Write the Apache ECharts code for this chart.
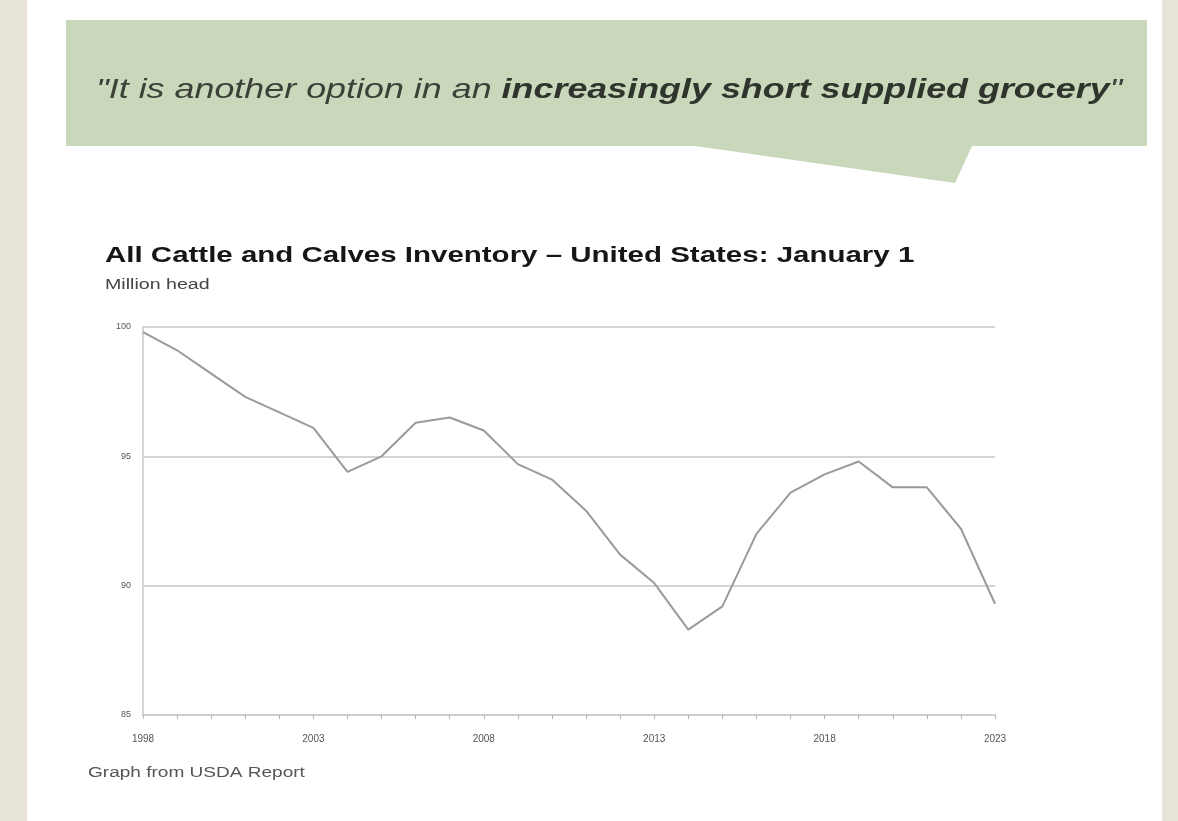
<!DOCTYPE html>
<html>
<head>
<meta charset="utf-8">
<title>All Cattle and Calves Inventory</title>
<script src="https://cdn.jsdelivr.net/npm/echarts@6/dist/echarts.min.js"></script>
<style>
  html, body { margin: 0; padding: 0; background: #e8e4d9; }
  #panel { position: absolute; left: 27px; top: 0; width: 1135px; height: 821px; background: #fff; }
  #chart { position: absolute; left: 0; top: 0; width: 1178px; height: 821px; }
</style>
</head>
<body>
<div id="panel"></div>
<div id="chart"></div>
<script>
// January 1 inventory, million head
const years = ['1998','1999','2000','2001','2002','2003','2004','2005','2006','2007','2008','2009','2010',
  '2011','2012','2013','2014','2015','2016','2017','2018','2019','2020','2021','2022','2023'];
const inventory = [99.8, 99.1, 98.2, 97.3, 96.7, 96.1, 94.4, 95.0, 96.3, 96.5, 96.0, 94.7, 94.1,
  92.9, 91.2, 90.1, 88.3, 89.2, 92.0, 93.6, 94.3, 94.8, 93.8, 93.8, 92.2, 89.3];
const yTicks = [85, 90, 95, 100];
const labelYears = ['1998', '2003', '2008', '2013', '2018', '2023'];

const chart = echarts.init(document.getElementById('chart'));

chart.setOption({
  animation: false,
  grid: {
    left: 143,
    right: 183,
    top: 327,
    bottom: 106
  },
  graphic: [
    {
      type: 'polygon',
      z: -1,
      shape: {
        points: [[66, 20], [1147, 20], [1147, 146], [972, 146], [955, 183], [695, 146], [66, 146]]
      },
      style: { fill: '#c9d7ba' }
    },
    {
      type: 'text',
      x: 96,
      y: 76,
      scaleX: 1.3,
      style: {
        text: '{a|"It is another option in an }{b|increasingly short supplied grocery}{a|"}',
        rich: {
          a: { fontFamily: 'Liberation Sans', fontStyle: 'italic', fontSize: 27.6, fill: '#3b4038' },
          b: { fontFamily: 'Liberation Sans', fontStyle: 'italic', fontWeight: 'bold', fontSize: 27.6, fill: '#2f342d' }
        }
      }
    },
    {
      type: 'text',
      x: 105,
      y: 245,
      scaleX: 1.34,
      style: {
        text: 'All Cattle and Calves Inventory \u2013 United States: January 1',
        fontFamily: 'Liberation Sans',
        fontWeight: 'bold',
        fontSize: 22,
        fill: '#161616'
      }
    },
    {
      type: 'text',
      x: 105,
      y: 278,
      scaleX: 1.4,
      style: {
        text: 'Million head',
        fontFamily: 'Liberation Sans',
        fontSize: 14,
        fill: '#444'
      }
    },
    {
      type: 'text',
      x: 88,
      y: 766,
      scaleX: 1.36,
      style: {
        text: 'Graph from USDA Report',
        fontFamily: 'Liberation Sans',
        fontSize: 14,
        fill: '#555'
      }
    }
  ],
  xAxis: {
    type: 'category',
    data: years,
    boundaryGap: false,
    axisLine: { lineStyle: { color: '#cfcfcf', width: 2 } },
    axisTick: { interval: 0, length: 4, lineStyle: { color: '#b5b5b5' } },
    axisLabel: {
      interval: function (idx, val) { return labelYears.indexOf(val) >= 0; },
      color: '#555',
      fontSize: 10,
      fontFamily: 'Liberation Sans',
      margin: 19
    },
    splitLine: { show: false }
  },
  yAxis: {
    type: 'value',
    min: yTicks[0],
    max: yTicks[yTicks.length - 1],
    interval: 5,
    axisLine: { show: true, lineStyle: { color: '#d4d4d4', width: 2 } },
    axisTick: { show: false },
    axisLabel: {
      color: '#555',
      fontSize: 9,
      fontFamily: 'Liberation Sans',
      margin: 12
    },
    splitLine: {
      lineStyle: { color: '#c6c6c6', width: 1.5 }
    }
  },
  series: [
    {
      name: 'All cattle and calves',
      type: 'line',
      data: inventory,
      symbol: 'none',
      lineStyle: { color: '#9a9a9a', width: 2 }
    }
  ]
});
</script>
</body>
</html>
